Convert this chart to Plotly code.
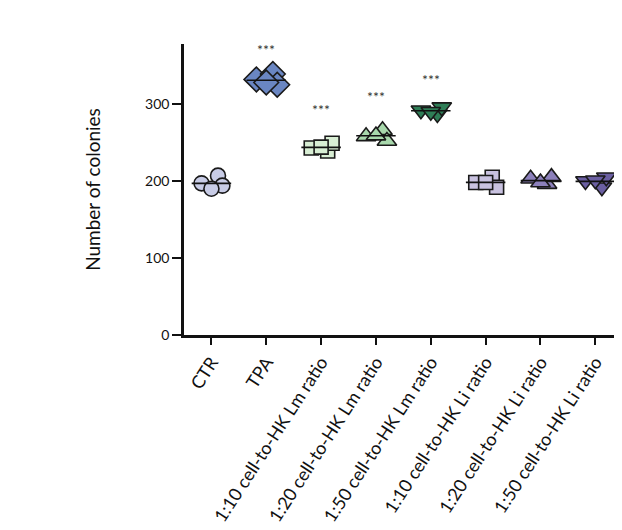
import plotly.graph_objects as go

categories = ["CTR", "TPA", "1:10 cell-to-HK Lm ratio", "1:20 cell-to-HK Lm ratio",
              "1:50 cell-to-HK Lm ratio", "1:10 cell-to-HK Li ratio",
              "1:20 cell-to-HK Li ratio", "1:50 cell-to-HK Li ratio"]

values_ctr = [197, 207, 194, 190]
values_tpa = [332, 339, 325, 328]
values_lm10 = [243, 239, 249, 244]
values_lm20 = [258, 266, 252, 259]
values_lm50 = [292, 287, 296, 290]
values_li10 = [198, 205, 192, 198]
values_li20 = [203, 196, 205, 198]
values_li50 = [200, 192, 205, 201]
series = [values_ctr, values_tpa, values_lm10, values_lm20,
          values_lm50, values_li10, values_li20, values_li50]

significance = ["", "***", "***", "***", "***", "", "", ""]
star_heights = [None, 384, 306, 323, 345, None, None, None]

y_ticks = [0, 100, 200, 300]
y_max = 378

# styling
colors = ["#c8cce6", "#6a86c2", "#d8eed4", "#a8d8ac", "#2f7e57",
          "#c9c2e0", "#8c80bb", "#6b5fa2"]
symbols = ["circle", "diamond", "square", "triangle-up", "triangle-down",
           "square", "triangle-up", "triangle-down"]
sizes = [15, 19, 14, 17, 17, 14, 17, 17]
jitter = [-0.18, 0.12, 0.2, 0.0]
mean_half = 0.36

FONT = "Lato"
fig = go.Figure()
for i, vals in enumerate(series):
    xs = [i + jitter[k % len(jitter)] for k in range(len(vals))]
    fig.add_trace(go.Scatter(
        x=xs, y=vals, mode="markers", showlegend=False,
        marker=dict(symbol=symbols[i], size=sizes[i], color=colors[i],
                    line=dict(color="#1a1a1a", width=1.6)),
        cliponaxis=False))
    m = sum(vals) / len(vals)
    fig.add_trace(go.Scatter(
        x=[i - mean_half, i + mean_half], y=[m, m], mode="lines",
        showlegend=False, line=dict(color="#111111", width=1.6)))
    if significance[i]:
        fig.add_annotation(x=i, y=star_heights[i] / y_max, yref="paper",
                           text=significance[i], showarrow=False,
                           font=dict(size=14, color="#333333", family=FONT))

fig.update_layout(
    width=614, height=522,
    margin=dict(l=176, r=2, t=36, b=195),
    paper_bgcolor="white", plot_bgcolor="white",
    font=dict(family=FONT, color="#111111"),
)
fig.update_xaxes(
    range=[-0.5, 7.45], tickmode="array", tickvals=list(range(len(categories))),
    ticktext=categories, tickangle=-57, showgrid=False, zeroline=False,
    showline=True, linecolor="#111111", linewidth=2.5, automargin=False,
    ticks="outside", ticklen=7, tickwidth=2, tickcolor="#111111",
    tickfont=dict(size=18, family=FONT, color="#111111"),
)
fig.update_yaxes(
    range=[0, y_max], tickmode="array", tickvals=y_ticks,
    showgrid=False, zeroline=False, automargin=False,
    showline=True, linecolor="#111111", linewidth=2.5,
    ticks="outside", ticklen=9, tickwidth=2, tickcolor="#111111",
    tickfont=dict(size=14, family=FONT, color="#111111"),
    title=dict(text="Number of colonies", font=dict(size=19, family=FONT, color="#111111"), standoff=40),
)
fig.write_html("out.html")
